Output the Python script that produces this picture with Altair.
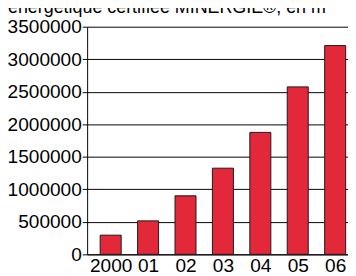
import altair as alt
import pandas as pd

years = ["2000", "01", "02", "03", "04", "05", "06"]
surface = [295000, 515000, 900000, 1325000, 1875000, 2575000, 3210000]
y_ticks = [0, 500000, 1000000, 1500000, 2000000, 2500000, 3000000, 3500000]
title_text = "énergétique certifiée MINERGIE®, en m²"

FONT = "Liberation Sans"

df = pd.DataFrame({"year": years, "idx": list(range(len(years))), "surface": surface})

label_array = "[" + ",".join("'" + y + "'" for y in years) + "]"

bars = alt.Chart(df).mark_bar(color="#e3283a", stroke="#1a1a1a", strokeWidth=1, size=21.5).encode(
    x=alt.X(
        "idx:Q", title=None,
        scale=alt.Scale(domain=[-0.629, 6.343], nice=False, zero=False, padding=0),
        axis=alt.Axis(values=list(range(len(years))), labelExpr=label_array + "[datum.value]",
                      ticks=False, labelPadding=3, domainColor="black",
                      labelFontSize=19.5, labelFont=FONT, labelColor="black", grid=False),
    ),
    y=alt.Y(
        "surface:Q", title=None, scale=alt.Scale(domain=[0, 3500000]),
        axis=alt.Axis(values=y_ticks, format="d", tickSize=5, tickColor="black",
                      labelPadding=1, grid=True, gridColor="black", gridOpacity=1,
                      domainColor="black", labelFontSize=19.5, labelFont=FONT,
                      labelColor="black", minExtent=81, maxExtent=81),
    ),
)

title = alt.Chart(pd.DataFrame({"t": [title_text]})).mark_text(
    align="left", baseline="alphabetic", fontSize=18.3, font=FONT, color="black"
).encode(x=alt.value(-81), y=alt.value(-14), text="t:N")

chart = alt.layer(bars, title).properties(
    width=267, height=233,
    padding={"left": 81, "top": 16, "right": 0, "bottom": 19},
    autosize=alt.AutoSizeParams(type="none"),
).configure_view(stroke=None)

chart.save("out.html", embed_options={"renderer": "svg", "actions": False})
